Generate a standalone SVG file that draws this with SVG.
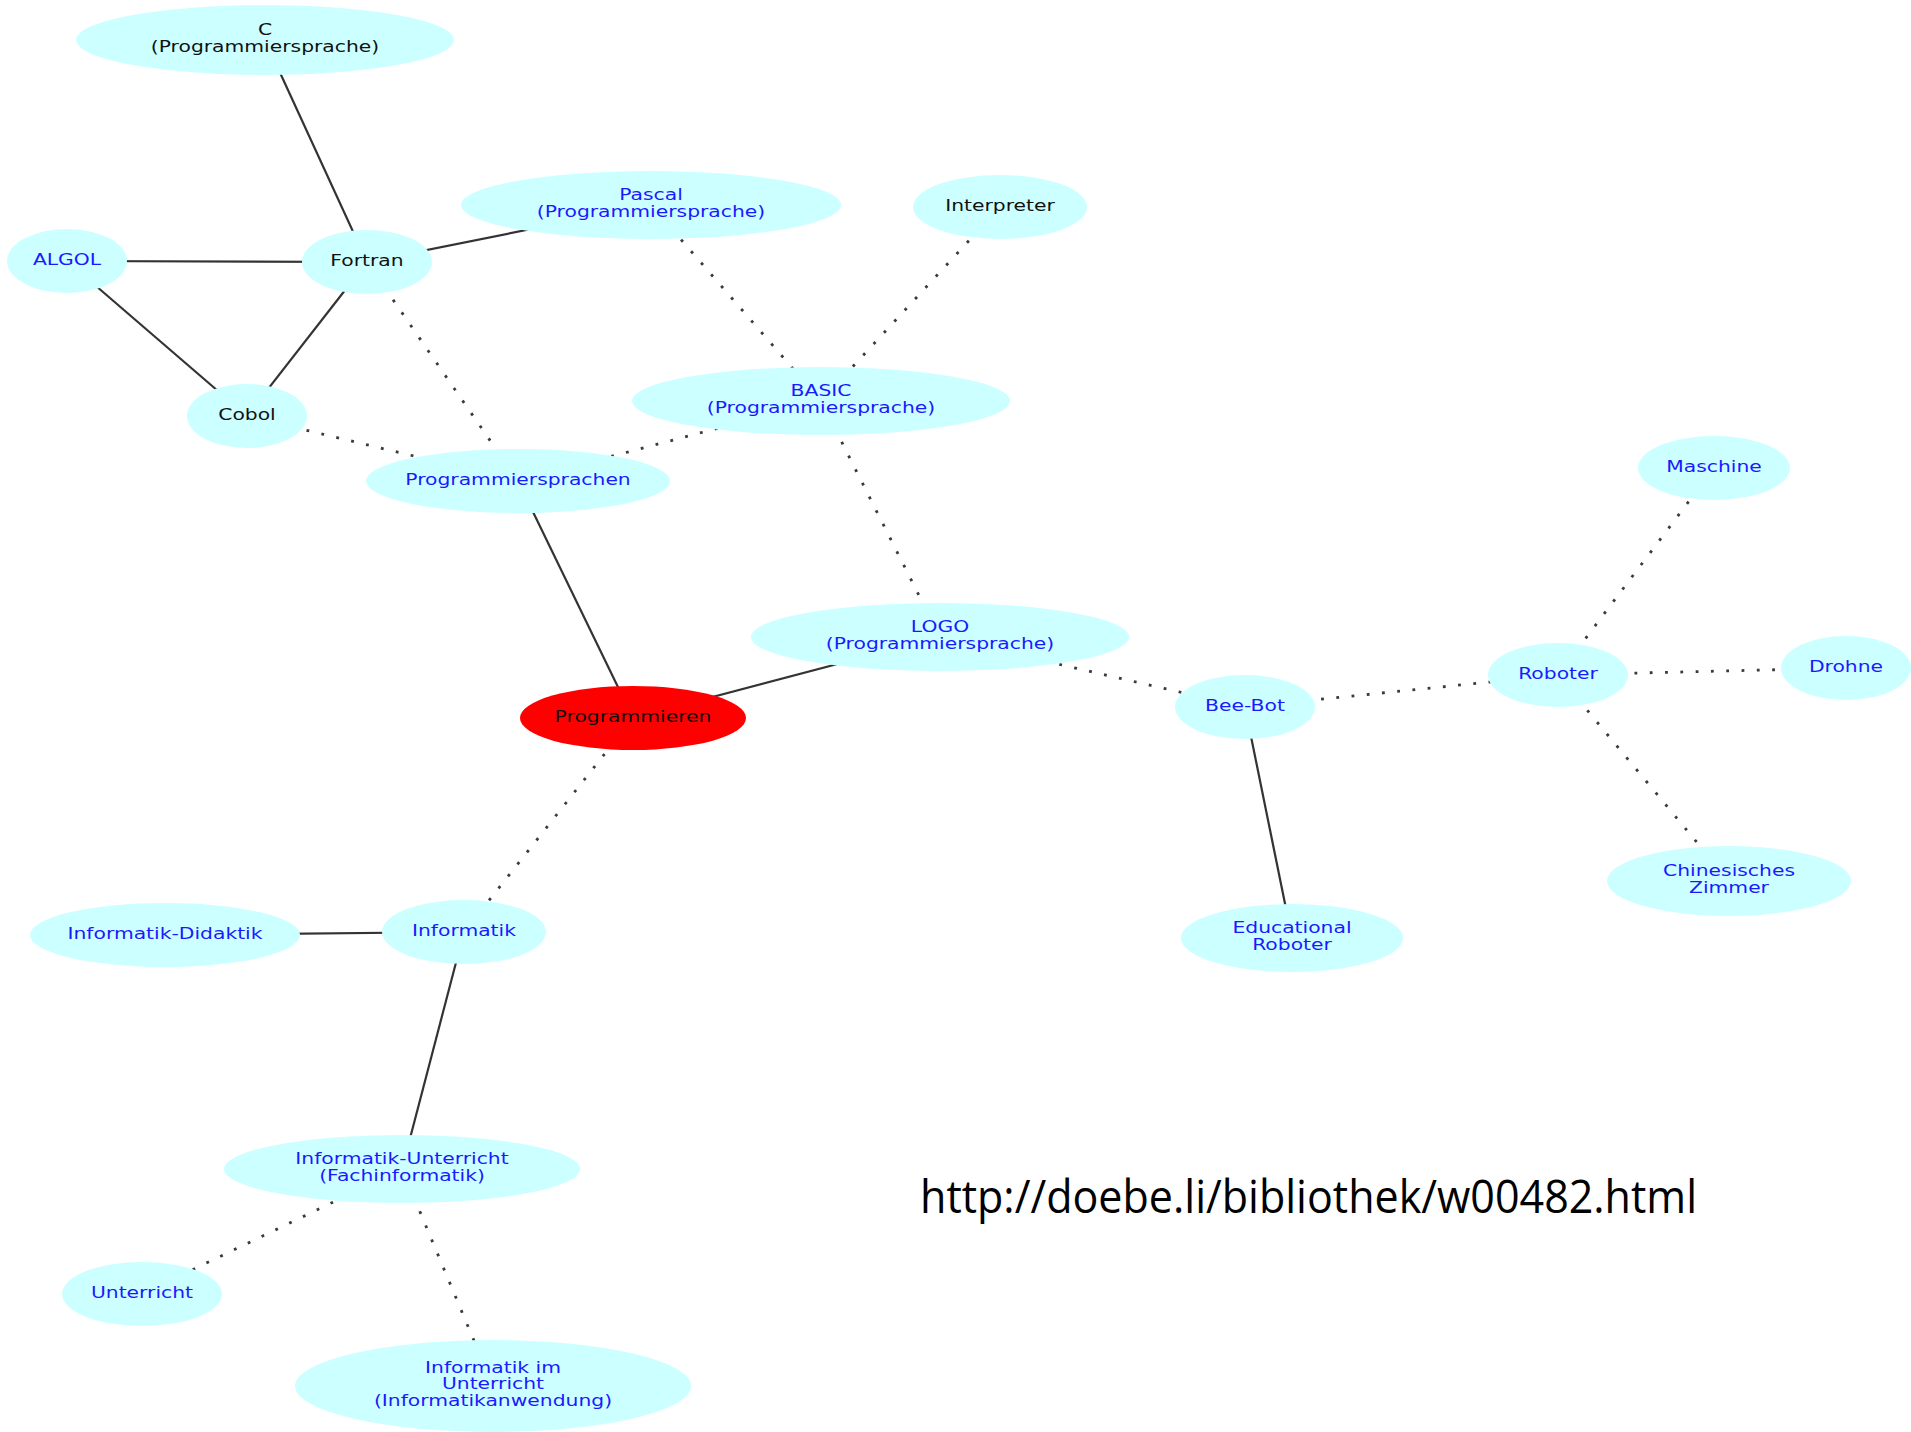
<svg xmlns="http://www.w3.org/2000/svg" width="1911" height="1432" viewBox="0 0 1911 1432">
<style>
.n ellipse{fill:#ccffff}
.n text{font-family:"DejaVu Sans",Verdana,sans-serif;font-size:16px;text-anchor:middle;fill:#1a1aff}
.n text.k{fill:#111}
#programmieren ellipse{fill:#ff0000}
.s{stroke:#333;stroke-width:2.2;fill:none}
.d{stroke:#3a3a3a;stroke-width:2.8;fill:none;stroke-dasharray:2.8 12.5}
.url{font-family:"Open Sans","Liberation Sans",sans-serif;font-size:45px;fill:#000}
</style>
<rect width="1911" height="1432" fill="#fff"/>
<g id="connectors">
<line class="s" x1="265" y1="40" x2="367" y2="262"/>
<line class="s" x1="67" y1="261" x2="367" y2="262"/>
<line class="s" x1="67" y1="261" x2="247" y2="416"/>
<line class="s" x1="367" y1="262" x2="247" y2="416"/>
<line class="s" x1="367" y1="262" x2="651" y2="205"/>
<line class="d" x1="367" y1="262" x2="518" y2="481"/>
<line class="d" x1="247" y1="416" x2="518" y2="481"/>
<line class="d" x1="651" y1="205" x2="821" y2="401"/>
<line class="d" x1="1000" y1="207" x2="821" y2="401"/>
<line class="d" x1="821" y1="401" x2="518" y2="481"/>
<line class="d" x1="821" y1="401" x2="940" y2="637"/>
<line class="s" x1="518" y1="481" x2="633" y2="718"/>
<line class="s" x1="633" y1="718" x2="940" y2="637"/>
<line class="d" x1="940" y1="637" x2="1245" y2="707"/>
<line class="d" x1="1245" y1="707" x2="1558" y2="675"/>
<line class="s" x1="1245" y1="707" x2="1292" y2="938"/>
<line class="d" x1="1558" y1="675" x2="1714" y2="468"/>
<line class="d" x1="1558" y1="675" x2="1846" y2="668"/>
<line class="d" x1="1558" y1="675" x2="1729" y2="881"/>
<line class="d" x1="633" y1="718" x2="464" y2="932"/>
<line class="s" x1="165" y1="935" x2="464" y2="932"/>
<line class="s" x1="464" y1="932" x2="402" y2="1169"/>
<line class="d" x1="402" y1="1169" x2="142" y2="1294"/>
<line class="d" x1="402" y1="1169" x2="493" y2="1386"/>
</g>
<g id="c" class="n" transform="translate(265,40)"><ellipse rx="189" ry="35"/><text class="k" transform="scale(1.27,1)"><tspan x="0" y="-5">C</tspan><tspan x="0" y="12">(Programmiersprache)</tspan></text></g>
<g id="algol" class="n" transform="translate(67,261)"><ellipse rx="60" ry="32"/><text transform="scale(1.27,1)" y="3.5">ALGOL</text></g>
<g id="fortran" class="n" transform="translate(367,262)"><ellipse rx="65" ry="32"/><text class="k" transform="scale(1.27,1)" y="3.5">Fortran</text></g>
<g id="cobol" class="n" transform="translate(247,416)"><ellipse rx="60" ry="32"/><text class="k" transform="scale(1.27,1)" y="3.5">Cobol</text></g>
<g id="pascal" class="n" transform="translate(651,205)"><ellipse rx="190" ry="34"/><text transform="scale(1.27,1)"><tspan x="0" y="-5">Pascal</tspan><tspan x="0" y="12">(Programmiersprache)</tspan></text></g>
<g id="interpreter" class="n" transform="translate(1000,207)"><ellipse rx="87" ry="32"/><text class="k" transform="scale(1.27,1)" y="3.5">Interpreter</text></g>
<g id="basic" class="n" transform="translate(821,401)"><ellipse rx="189" ry="34"/><text transform="scale(1.27,1)"><tspan x="0" y="-5">BASIC</tspan><tspan x="0" y="12">(Programmiersprache)</tspan></text></g>
<g id="programmiersprachen" class="n" transform="translate(518,481)"><ellipse rx="152" ry="32"/><text transform="scale(1.27,1)" y="3.5">Programmiersprachen</text></g>
<g id="logo" class="n" transform="translate(940,637)"><ellipse rx="189" ry="34"/><text transform="scale(1.27,1)"><tspan x="0" y="-5">LOGO</tspan><tspan x="0" y="12">(Programmiersprache)</tspan></text></g>
<g id="programmieren" class="n" transform="translate(633,718)"><ellipse rx="113" ry="32"/><text class="k" transform="scale(1.27,1)" y="3.5">Programmieren</text></g>
<g id="beebot" class="n" transform="translate(1245,707)"><ellipse rx="70" ry="32"/><text transform="scale(1.27,1)" y="3.5">Bee-Bot</text></g>
<g id="roboter" class="n" transform="translate(1558,675)"><ellipse rx="70" ry="32"/><text transform="scale(1.27,1)" y="3.5">Roboter</text></g>
<g id="maschine" class="n" transform="translate(1714,468)"><ellipse rx="76" ry="32"/><text transform="scale(1.27,1)" y="3.5">Maschine</text></g>
<g id="drohne" class="n" transform="translate(1846,668)"><ellipse rx="65" ry="32"/><text transform="scale(1.27,1)" y="3.5">Drohne</text></g>
<g id="chinesisches-zimmer" class="n" transform="translate(1729,881)"><ellipse rx="122" ry="35"/><text transform="scale(1.27,1)"><tspan x="0" y="-5">Chinesisches</tspan><tspan x="0" y="12">Zimmer</tspan></text></g>
<g id="educational-roboter" class="n" transform="translate(1292,938)"><ellipse rx="111" ry="34"/><text transform="scale(1.27,1)"><tspan x="0" y="-5">Educational</tspan><tspan x="0" y="12">Roboter</tspan></text></g>
<g id="informatik-didaktik" class="n" transform="translate(165,935)"><ellipse rx="135" ry="32"/><text transform="scale(1.27,1)" y="3.5">Informatik-Didaktik</text></g>
<g id="informatik" class="n" transform="translate(464,932)"><ellipse rx="82" ry="32"/><text transform="scale(1.27,1)" y="3.5">Informatik</text></g>
<g id="informatik-unterricht" class="n" transform="translate(402,1169)"><ellipse rx="178" ry="34"/><text transform="scale(1.27,1)"><tspan x="0" y="-5">Informatik-Unterricht</tspan><tspan x="0" y="12">(Fachinformatik)</tspan></text></g>
<g id="unterricht" class="n" transform="translate(142,1294)"><ellipse rx="80" ry="32"/><text transform="scale(1.27,1)" y="3.5">Unterricht</text></g>
<g id="informatik-im-unterricht" class="n" transform="translate(493,1386)"><ellipse rx="198" ry="46"/><text transform="scale(1.27,1)"><tspan x="0" y="-13.5">Informatik im</tspan><tspan x="0" y="3">Unterricht</tspan><tspan x="0" y="20">(Informatikanwendung)</tspan></text></g>
<text class="url" x="920" y="1213" textLength="777" lengthAdjust="spacingAndGlyphs">http://doebe.li/bibliothek/w00482.html</text>
</svg>
